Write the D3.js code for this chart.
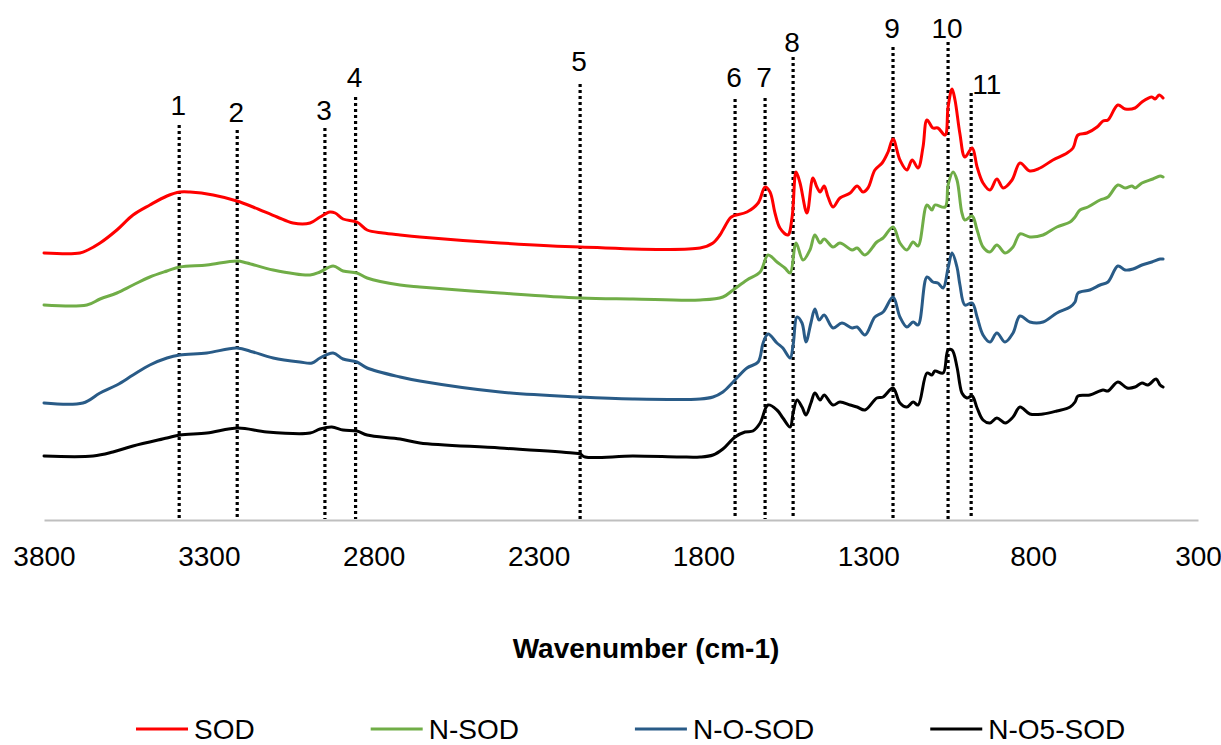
<!DOCTYPE html>
<html>
<head>
<meta charset="utf-8">
<script src="https://cdn.jsdelivr.net/npm/d3@7"></script>
<style>
  body { margin: 0; background: #fff; }
  text { font-family: "Liberation Sans", Arial, sans-serif; }
</style>
</head>
<body>
<div id="chart"></div>
<script>
// spectra: [wavenumber (cm-1), intensity (a.u., offset)]
var sod = [[3800,26.7],[3691,26.7],[3667,27.0],[3630,27.7],[3579,29.0],[3530,30.5],[3479,31.5],[3427,32.4],[3388,32.8],[3357,32.8],[3287,32.5],[3215,31.9],[3166,31.3],[3093,30.3],[3045,29.7],[2993,29.7],[2963,30.3],[2933,30.8],[2917,30.7],[2893,30.1],[2851,29.8],[2820,29.0],[2772,28.7],[2720,28.5],[2660,28.3],[2417,27.7],[2174,27.3],[1810,27.2],[1771,27.7],[1750,28.5],[1741,29.0],[1719,30.2],[1710,30.4],[1668,30.8],[1634,31.7],[1613,33.3],[1598,32.8],[1583,30.7],[1568,29.2],[1544,28.5],[1531,30.3],[1519,34.8],[1507,33.7],[1486,30.7],[1468,34.2],[1456,33.3],[1446,32.8],[1434,33.4],[1422,32.3],[1407,31.3],[1386,32.2],[1355,32.7],[1334,33.4],[1316,32.8],[1301,33.2],[1280,35.0],[1258,35.7],[1240,36.8],[1225,38.1],[1204,36.0],[1183,35.0],[1167,36.0],[1149,35.2],[1134,37.3],[1122,40.0],[1104,39.2],[1089,39.2],[1067,38.5],[1058,41.3],[1046,43.1],[1037,42.0],[1022,38.6],[1007,36.3],[985,37.2],[970,35.3],[952,33.7],[931,33.0],[910,34.1],[891,33.2],[864,34.0],[840,35.7],[810,34.9],[779,35.2],[740,36.0],[697,36.7],[679,37.2],[664,38.5],[637,38.7],[606,39.3],[588,39.9],[573,40.0],[543,41.5],[521,41.1],[491,41.2],[470,41.8],[440,42.3],[430,42.1],[418,42.5],[406,42.2]];

var nSod = [[3800,21.5],[3670,21.5],[3630,22.1],[3579,22.7],[3530,23.5],[3479,24.3],[3427,24.9],[3388,25.3],[3306,25.5],[3215,25.9],[3184,25.7],[3105,25.0],[2993,24.5],[2963,24.8],[2923,25.4],[2893,24.9],[2851,24.7],[2820,24.2],[2720,23.5],[2660,23.3],[2417,22.7],[2174,22.2],[2014,22.1],[1810,22.0],[1741,22.3],[1710,23.0],[1668,24.0],[1628,24.8],[1604,26.5],[1577,25.8],[1553,25.2],[1537,24.7],[1519,27.7],[1498,26.0],[1477,27.0],[1462,28.5],[1446,27.7],[1434,28.1],[1407,27.3],[1386,27.7],[1349,27.0],[1334,27.2],[1310,26.5],[1274,27.8],[1255,28.2],[1225,29.3],[1204,27.7],[1183,27.0],[1164,27.8],[1149,27.4],[1122,31.5],[1107,31.0],[1098,31.5],[1067,31.3],[1058,33.5],[1043,34.8],[1031,34.0],[1016,30.7],[1007,30.0],[985,30.4],[970,29.0],[952,27.3],[931,26.8],[910,27.5],[885,26.7],[861,27.3],[840,28.6],[810,28.3],[770,28.5],[728,29.3],[688,29.8],[673,30.3],[658,31.0],[634,31.3],[597,32.0],[573,32.3],[543,33.5],[521,33.2],[500,33.4],[491,33.2],[470,33.7],[437,34.1],[415,34.4],[406,34.3]];

var noSod = [[3800,11.7],[3682,11.7],[3630,12.7],[3579,13.5],[3530,14.5],[3479,15.5],[3427,16.2],[3388,16.5],[3306,16.7],[3215,17.2],[3166,16.8],[3105,16.2],[3024,15.8],[2987,15.7],[2963,16.2],[2923,16.7],[2893,16.1],[2851,15.8],[2820,15.2],[2720,14.3],[2660,13.9],[2417,12.8],[2174,12.3],[2014,12.1],[1810,12.1],[1771,12.3],[1741,12.8],[1710,13.8],[1668,15.2],[1634,15.8],[1619,17.7],[1604,18.6],[1577,17.7],[1559,17.2],[1537,16.2],[1528,17.5],[1516,20.3],[1501,19.7],[1489,17.8],[1474,19.7],[1462,21.1],[1449,20.0],[1434,20.5],[1407,19.2],[1380,19.7],[1349,19.2],[1334,19.3],[1310,18.5],[1280,20.3],[1255,20.8],[1225,22.3],[1204,20.3],[1183,19.3],[1164,19.8],[1149,19.5],[1122,24.3],[1104,23.8],[1089,23.7],[1073,23.2],[1058,25.2],[1046,26.7],[1031,25.3],[1022,23.5],[1007,21.5],[985,21.7],[970,20.3],[952,18.5],[931,17.8],[910,18.7],[885,17.8],[861,18.7],[840,20.4],[810,19.8],[770,19.8],[728,20.7],[688,21.3],[673,21.8],[664,22.7],[628,23.0],[597,23.5],[573,23.8],[543,25.4],[521,25.0],[497,25.1],[470,25.5],[440,25.8],[415,26.1],[406,26.1]];

var no5Sod = [[3800,6.4],[3651,6.4],[3591,6.8],[3530,7.4],[3427,8.2],[3388,8.5],[3306,8.7],[3212,9.2],[3124,8.8],[2993,8.7],[2963,9.1],[2927,9.3],[2893,9.0],[2851,8.9],[2820,8.5],[2720,8.1],[2660,7.7],[2417,7.2],[2196,6.7],[2174,6.6],[2159,6.3],[2014,6.4],[1871,6.3],[1810,6.3],[1771,6.5],[1741,7.1],[1704,8.3],[1674,8.8],[1650,8.9],[1628,9.7],[1604,11.5],[1577,11.0],[1559,10.2],[1537,9.3],[1528,10.7],[1516,12.0],[1501,11.3],[1489,10.5],[1474,11.7],[1462,12.7],[1446,12.0],[1434,12.5],[1407,11.5],[1386,11.8],[1355,11.5],[1334,11.3],[1310,11.0],[1274,12.2],[1255,12.3],[1225,13.2],[1204,11.7],[1183,11.3],[1164,11.8],[1149,11.5],[1122,14.7],[1107,14.5],[1098,14.9],[1073,14.7],[1058,17.0],[1046,17.0],[1031,15.3],[1022,13.5],[1016,12.7],[1001,12.2],[985,12.4],[970,11.2],[952,10.0],[931,9.7],[910,10.2],[885,9.7],[861,10.3],[840,11.3],[810,10.6],[770,10.6],[728,10.9],[688,11.3],[673,11.8],[664,12.4],[628,12.5],[588,13.0],[573,12.9],[543,13.8],[515,13.2],[491,13.3],[470,13.7],[452,13.5],[427,14.1],[415,13.5],[406,13.3]];

var seriesNames = ["SOD", "N-SOD", "N-O-SOD", "N-O5-SOD"];
var seriesData = [sod, nSod, noSod, no5Sod];

// x axis ticks
var xTicks = [3800, 3300, 2800, 2300, 1800, 1300, 800, 300];

// marked bands (dotted lines): label, wavenumber, top of line, label level
var bandLabels = ["1", "2", "3", "4", "5", "6", "7", "8", "9", "10", "11"];
var bandWavenumbers = [3390, 3214, 2948, 2855, 2174, 1704, 1613, 1528, 1225, 1058, 988];
var bandTops = [39.5, 39.0, 39.2, 42.3, 43.6, 42.1, 42.2, 46.3, 47.3, 47.8, 42.7];
var bandLabelLevels = [40.5, 39.8, 40.0, 43.3, 44.9, 43.3, 43.3, 46.8, 48.2, 48.2, 42.6];

var W = 1221, H = 745;
var plotLeft = 44, plotRight = 1198, plotTop = 20, plotBottom = 520;

var svg = d3
  .select("#chart")
  .append("svg")
  .attr("width", W)
  .attr("height", H);

svg.append("rect").attr("width", W).attr("height", H).attr("fill", "#fff");

// scales
var x = d3.scaleLinear().domain([3800, 300]).range([plotLeft, plotRight]);
var y = d3.scaleLinear().domain([0, 50]).range([plotBottom, plotTop]);

var color = d3
  .scaleOrdinal()
  .domain(seriesNames)
  .range(["#ff0000", "#70ad47", "#295b87", "#000000"]);

// X axis
var xAxis = svg
  .append("g")
  .attr("transform", "translate(0," + plotBottom + ")")
  .call(d3.axisBottom(x).tickValues(xTicks).tickSize(0).tickPadding(26).tickFormat(d3.format("d")));
xAxis.select(".domain").attr("stroke", "#bfbfbf").attr("stroke-width", 2);
xAxis
  .selectAll("text")
  .attr("font-size", 28)
  .attr("fill", "#000")
  .style("font-family", "'Liberation Sans', Arial, sans-serif");

// dotted band lines
var bands = bandLabels.map(function (d, i) {
  return { label: d, wn: bandWavenumbers[i], top: bandTops[i], level: bandLabelLevels[i] };
});

svg
  .append("g")
  .selectAll("line")
  .data(bands)
  .enter()
  .append("line")
  .attr("x1", function (d) { return x(d.wn); })
  .attr("x2", function (d) { return x(d.wn); })
  .attr("y1", function (d) { return y(d.top); })
  .attr("y2", plotBottom - 1)
  .attr("stroke", "#000")
  .attr("stroke-width", 3.2)
  .attr("stroke-dasharray", "3,3");

svg
  .append("g")
  .selectAll("text")
  .data(bands)
  .enter()
  .append("text")
  .attr("x", function (d) { return d.label === "11" ? x(d.wn) + 1 : x(d.wn) - 1; })
  .attr("y", function (d) { return y(d.level); })
  .attr("text-anchor", function (d) { return d.label === "11" ? "start" : "middle"; })
  .attr("font-size", 28)
  .attr("fill", "#000")
  .text(function (d) { return d.label; });

// spectra
var line = d3
  .line()
  .x(function (d) { return x(d[0]); })
  .y(function (d) { return y(d[1]); })
  .curve(d3.curveCatmullRom.alpha(0.5));

svg
  .append("g")
  .selectAll("path")
  .data(seriesData)
  .enter()
  .append("path")
  .attr("d", line)
  .attr("fill", "none")
  .attr("stroke", function (d, i) { return color(seriesNames[i]); })
  .attr("stroke-width", 3)
  .attr("stroke-linejoin", "round")
  .attr("stroke-linecap", "round");

// X axis label
svg
  .append("text")
  .attr("x", 646)
  .attr("y", 658)
  .attr("text-anchor", "middle")
  .attr("font-size", 28)
  .attr("font-weight", "bold")
  .text("Wavenumber (cm-1)");

// legend
var legend = svg.append("g").attr("transform", "translate(136,729)");
var lx = 0;
seriesNames.forEach(function (name) {
  var g = legend.append("g").attr("transform", "translate(" + lx + ",0)");
  g.append("line")
    .attr("x1", 0)
    .attr("x2", 52)
    .attr("stroke", color(name))
    .attr("stroke-width", 3);
  var t = g
    .append("text")
    .attr("x", 58)
    .attr("y", 10)
    .attr("font-size", 28)
    .text(name);
  lx += 58 + t.node().getComputedTextLength() + 116;
});
</script>
</body>
</html>
